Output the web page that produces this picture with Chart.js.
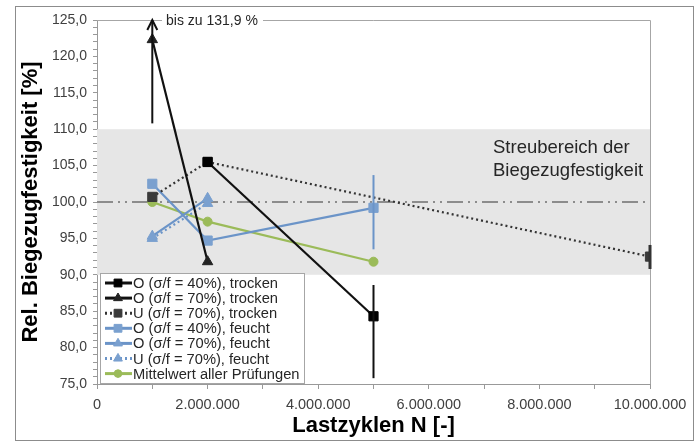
<!DOCTYPE html>
<html>
<head>
<meta charset="utf-8">
<script src="https://cdn.jsdelivr.net/npm/chart.js@4.4.1/dist/chart.umd.min.js"></script>
<style>
  html, body { margin: 0; padding: 0; background: #fff; }
</style>
</head>
<body>
<canvas id="grafica" width="699" height="443"></canvas>
<script>
// Werte aus dem Diagramm (Lastzyklen N / rel. Biegezugfestigkeit in %)
var xO40T = [2000000, 5000000];
var yO40T = [105.5, 84.3];
var loO40T = [null, 75.8];
var hiO40T = [null, 88.6];

var xO70T = [1000000, 2000000];
var yO70T = [122.3, 91.8];
var loO70T = [110.8, null];
var hiO70T = [125.0, null];   // Pfeil: bis zu 131,9 %

var xU70T = [1000000, 2000000, 10000000];
var yU70T = [100.7, 105.5, 92.5];
var loU70T = [null, null, 90.8];
var hiU70T = [null, null, 94.1];

var xO40F = [1000000, 2000000, 5000000];
var yO40F = [102.5, 94.7, 99.2];
var loO40F = [null, null, 93.5];
var hiO40F = [null, null, 103.7];

var xO70F = [1000000, 2000000];
var yO70F = [95.3, 100.5];

var xU70F = [1000000, 2000000];
var yU70F = [95.0, 99.8];

var xMittel = [1000000, 2000000, 5000000];
var yMittel = [100.0, 97.3, 91.8];

// Streubereich und Bezugslinie
var streuUnten = 90;
var streuOben = 110;
var bezugWert = 100;

var schrift = '"Liberation Sans", Arial, sans-serif';

function punkte(xs, ys) {
  var lista = [];
  for (let i = 0; i < xs.length; i++) {
    lista.push({ x: xs[i], y: ys[i] });
  }
  return lista;
}

function serie(label, xs, ys, farbe, punktFarbe, stil, radius, strich, lo, hi) {
  return {
    label: label,
    data: punkte(xs, ys),
    showLine: true,
    borderColor: farbe,
    borderWidth: 2.2,
    borderDash: strich,
    backgroundColor: punktFarbe,
    pointBackgroundColor: punktFarbe,
    pointBorderColor: punktFarbe,
    pointBorderWidth: 1,
    pointStyle: stil,
    pointRadius: radius,
    errLo: lo || [],
    errHi: hi || []
  };
}

function zahlDe(v) {
  return String(Math.round(v)).replace(/\B(?=(\d{3})+(?!\d))/g, ".");
}

// Eigenes Plugin: Streubereich, Fehlerbalken, Legende, Rahmen
var deko = {
  id: "deko",
  beforeDatasetsDraw: function (chart) {
    var ctx = chart.ctx, a = chart.chartArea;
    var sy = chart.scales.y;
    ctx.save();
    ctx.fillStyle = "#e6e6e6";
    var yo = sy.getPixelForValue(streuOben), yu = sy.getPixelForValue(streuUnten);
    ctx.fillRect(a.left, yo, a.right - a.left, yu - yo);
    // Rahmen oben / rechts
    ctx.strokeStyle = "#a6a6a6";
    ctx.lineWidth = 1;
    ctx.beginPath();
    ctx.moveTo(a.left, a.top + 0.5);
    ctx.lineTo(a.right + 0.5, a.top + 0.5);
    ctx.lineTo(a.right + 0.5, a.bottom);
    ctx.stroke();
    // Bezugslinie 100 %
    var yb = sy.getPixelForValue(bezugWert);
    ctx.strokeStyle = "#8c8c8c";
    ctx.lineWidth = 2;
    ctx.setLineDash([16, 5, 2, 5, 2, 5]);
    ctx.beginPath();
    ctx.moveTo(a.left, yb);
    ctx.lineTo(a.right, yb);
    ctx.stroke();
    ctx.setLineDash([]);
    // Text Streubereich
    ctx.fillStyle = "#262626";
    ctx.font = "18.5px " + schrift;
    ctx.textAlign = "left";
    ctx.textBaseline = "alphabetic";
    ctx.fillText("Streubereich der", 493, 153);
    ctx.fillText("Biegezugfestigkeit", 493, 176);
    ctx.restore();
  },
  afterDatasetsDraw: function (chart) {
    var ctx = chart.ctx, a = chart.chartArea;
    var sx = chart.scales.x, sy = chart.scales.y;
    ctx.save();
    // Fehlerbalken
    chart.data.datasets.forEach(function (ds) {
      for (let i = 0; i < ds.data.length; i++) {
        var lo = ds.errLo[i], hi = ds.errHi[i];
        if (lo == null || hi == null) continue;
        var px = sx.getPixelForValue(ds.data[i].x);
        var p1 = sy.getPixelForValue(lo), p2 = sy.getPixelForValue(hi);
        ctx.strokeStyle = ds.borderColor;
        ctx.lineWidth = ds.data[i].x >= 10000000 ? 3 : 2;
        ctx.beginPath();
        ctx.moveTo(px, p1);
        ctx.lineTo(px, p2);
        ctx.stroke();
        if (hi >= sy.max) {
          ctx.beginPath();
          ctx.moveTo(px - 5, p2 + 10);
          ctx.lineTo(px, p2);
          ctx.lineTo(px + 5, p2 + 10);
          ctx.stroke();
        }
      }
    });
    // Hinweis oben
    ctx.fillStyle = "#fff";
    ctx.fillRect(162, a.top - 8, 101, 16);
    ctx.fillStyle = "#262626";
    ctx.font = "14px " + schrift;
    ctx.textBaseline = "middle";
    ctx.fillText("bis zu 131,9 %", 166, a.top + 1);

    // Legende
    var lx = 100, ly = 273, lw = 204, lh = 110;
    ctx.fillStyle = "#fff";
    ctx.fillRect(lx, ly, lw, lh);
    ctx.strokeStyle = "#a6a6a6";
    ctx.lineWidth = 1;
    ctx.strokeRect(lx + 0.5, ly + 0.5, lw, lh);
    chart.data.datasets.forEach(function (ds, i) {
      var yy = ly + 10 + i * 15.1;
      ctx.strokeStyle = ds.borderColor;
      ctx.lineWidth = 3;
      ctx.setLineDash(ds.borderDash || []);
      ctx.beginPath();
      ctx.moveTo(lx + 5, yy);
      ctx.lineTo(lx + 32, yy);
      ctx.stroke();
      ctx.setLineDash([]);
      ctx.fillStyle = ds.pointBackgroundColor;
      ctx.strokeStyle = ds.pointBorderColor;
      ctx.lineWidth = 1;
      Chart.helpers.drawPoint(ctx, { pointStyle: ds.pointStyle, radius: ds.pointRadius * 0.85, rotation: 0, borderWidth: 1 }, lx + 18, yy);
      ctx.fillStyle = "#262626";
      ctx.font = "14.7px " + schrift;
      ctx.textBaseline = "middle";
      ctx.fillText(ds.label, lx + 33, yy + 1);
    });

    // Außenrahmen
    ctx.strokeStyle = "#8c8c8c";
    ctx.lineWidth = 1;
    ctx.strokeRect(15.5, 6.5, 678, 434);
    ctx.restore();
  }
};

var schwarz = "#111111";
var blau = "#6b94c8";
var blauPunkt = "#7aa0cf";
var gruen = "#9bbb59";

var ctx = document.getElementById("grafica").getContext("2d");
var grafica = new Chart(ctx, {
  type: "scatter",
  data: {
    datasets: [
      serie("O (σ/f = 40%), trocken", xO40T, yO40T, schwarz, "#000", "rect", 6.5, [], loO40T, hiO40T),
      serie("O (σ/f = 70%), trocken", xO70T, yO70T, schwarz, "#222", "triangle", 6, [], loO70T, hiO70T),
      serie("U (σ/f = 70%), trocken", xU70T, yU70T, "#333", "#3a3a3a", "rect", 6.5, [2, 3], loU70T, hiU70T),
      serie("O (σ/f = 40%), feucht", xO40F, yO40F, blau, blauPunkt, "rect", 6.5, [], loO40F, hiO40F),
      serie("O (σ/f = 70%), feucht", xO70F, yO70F, blau, blauPunkt, "triangle", 6, []),
      serie("U (σ/f = 70%), feucht", xU70F, yU70F, blau, blauPunkt, "triangle", 6, [2, 3]),
      serie("Mittelwert aller Prüfungen", xMittel, yMittel, gruen, gruen, "circle", 4.5, [])
    ]
  },
  options: {
    responsive: false,
    animation: false,
    layout: { padding: { left: 0, right: 49, top: 20, bottom: 0 } },
    plugins: { legend: { display: false }, tooltip: { enabled: false } },
    scales: {
      x: {
        type: "linear",
        min: 0,
        max: 10000000,
        afterFit: function (s) { s.height = 59; },
        border: { color: "#999", width: 1 },
        grid: { drawOnChartArea: false, color: "#999", tickLength: 5 },
        ticks: {
          stepSize: 1000000,
          autoSkip: false,
          maxRotation: 0,
          padding: 7,
          color: "#404040",
          font: { family: schrift, size: 14.5 },
          callback: function (v) { return (v / 1000000) % 2 === 0 ? zahlDe(v) : ""; }
        },
        title: {
          display: true,
          text: "Lastzyklen N [-]",
          color: "#000",
          font: { family: schrift, size: 22, weight: "bold" },
          padding: { top: 0, bottom: 4 }
        }
      },
      y: {
        min: 75,
        max: 125,
        afterFit: function (s) { s.width = 97; },
        border: { color: "#999", width: 1 },
        grid: { drawOnChartArea: false, color: "#999", tickLength: 4 },
        ticks: {
          stepSize: 1,
          autoSkip: false,
          padding: 6,
          color: "#404040",
          font: { family: schrift, size: 14 },
          callback: function (v) { return v % 5 === 0 ? v.toFixed(1).replace(".", ",") : ""; }
        },
        title: {
          display: true,
          text: "Rel. Biegezugfestigkeit [%]",
          color: "#000",
          font: { family: schrift, size: 22, weight: "bold" },
          padding: { top: 18, bottom: 0 }
        }
      }
    }
  },
  plugins: [deko]
});
</script>
</body>
</html>
